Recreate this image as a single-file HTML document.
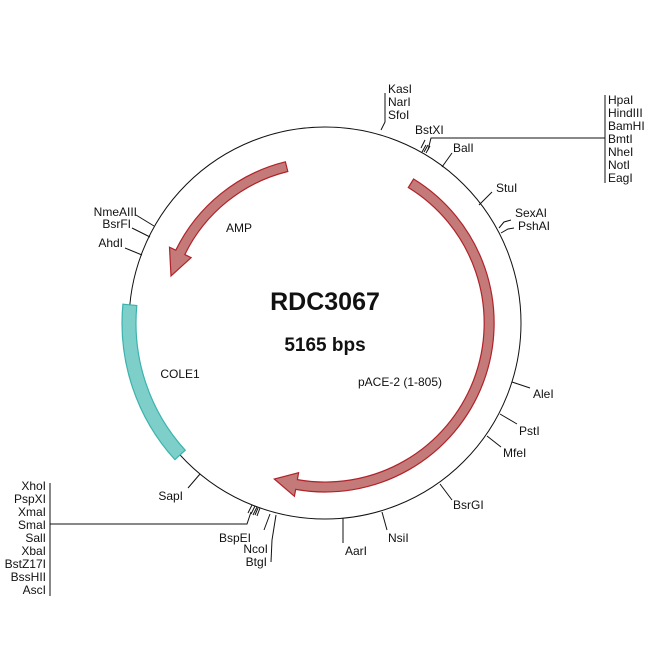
<!DOCTYPE html>
<html><head><style>
html,body{margin:0;padding:0;background:#fff;}
svg{display:block;font-family:"Liberation Sans",Arial,sans-serif;}
text{font-size:12px;fill:#111;}
</style></head><body>
<svg width="650" height="650" viewBox="0 0 650 650">
<circle cx="325" cy="323" r="196" fill="none" stroke="#111" stroke-width="1"/>
<path d="M122.9,304.2 A203,203 0 0 0 174.9,459.6 L185.2,450.2 A189,189 0 0 1 136.8,305.5 Z" fill="#7ecfca" stroke="#3bb3ad" stroke-width="1.2"/>
<path d="M413.6,179.0 A169,169 0 0 1 295.7,489.4 L294.4,496.3 L274.3,479.0 L298.6,472.7 L297.4,479.6 A159,159 0 0 0 408.3,187.5 Z" fill="#c47a78" stroke="#b0232a" stroke-width="1.2"/>
<path d="M285.4,161.8 A166,166 0 0 0 175.8,250.2 L169.5,247.2 L171.0,275.9 L191.1,257.7 L184.8,254.6 A156,156 0 0 1 287.8,171.5 Z" fill="#c47a78" stroke="#b0232a" stroke-width="1.2"/>

<text x="325" y="310" text-anchor="middle" style="font-size:25px;font-weight:bold">RDC3067</text>
<text x="325" y="351" text-anchor="middle" style="font-size:19px;font-weight:bold">5165 bps</text>
<text x="239" y="232" text-anchor="middle">AMP</text>
<text x="180" y="378" text-anchor="middle">COLE1</text>
<text x="400" y="386" text-anchor="middle">pACE-2 (1-805)</text>

<g stroke="#111" stroke-width="1" fill="none">
<polyline points="381,130 385,122 385,93"/>
<polyline points="421,148 425,140"/>
<line x1="422" y1="152" x2="426" y2="145"/><line x1="424" y1="152" x2="428" y2="145"/><line x1="426" y1="153" x2="430" y2="146"/>
<polyline points="428,150 431,138 605,138"/>
<line x1="605" y1="95" x2="605" y2="183"/>
<line x1="442" y1="167" x2="452" y2="153"/>
<line x1="479" y1="205" x2="492" y2="192"/>
<polyline points="499,228 504,222 511,220"/>
<polyline points="501,233 508,229 514,228"/>
<line x1="512" y1="382" x2="530" y2="388"/>
<line x1="500" y1="414" x2="517" y2="424"/>
<line x1="487" y1="436" x2="501" y2="447"/>
<line x1="440" y1="484" x2="452" y2="500"/>
<line x1="382" y1="512" x2="387" y2="530"/>
<line x1="343" y1="518" x2="343" y2="543"/>
<line x1="270" y1="514" x2="264" y2="530"/>
<polyline points="276,515 272,540 271,562"/>
<line x1="200" y1="474" x2="188" y2="488"/>
<line x1="50" y1="483" x2="50" y2="596"/>
<polyline points="50,524 247,524 251,512"/>
<line x1="248" y1="513" x2="252" y2="505"/><line x1="251" y1="514" x2="255" y2="506"/><line x1="253" y1="515" x2="257" y2="507"/><line x1="255" y1="515" x2="258" y2="508"/><line x1="257" y1="516" x2="260" y2="508"/>
<polyline points="154,226 136,215"/>
<polyline points="150,237 132,228"/>
<polyline points="142,255 125,248"/>
</g>

<text x="388" y="93">KasI</text>
<text x="388" y="106">NarI</text>
<text x="388" y="119">SfoI</text>
<text x="415" y="134">BstXI</text>
<text x="453" y="152">BalI</text>
<text x="496" y="192">StuI</text>
<text x="515" y="217">SexAI</text>
<text x="518" y="230">PshAI</text>
<text x="608" y="104">HpaI</text>
<text x="608" y="117">HindIII</text>
<text x="608" y="130">BamHI</text>
<text x="608" y="143">BmtI</text>
<text x="608" y="156">NheI</text>
<text x="608" y="169">NotI</text>
<text x="608" y="182">EagI</text>
<text x="533" y="398">AleI</text>
<text x="519" y="435">PstI</text>
<text x="503" y="457">MfeI</text>
<text x="453" y="509">BsrGI</text>
<text x="388" y="542">NsiI</text>
<text x="345" y="555">AarI</text>
<text x="251" y="542" text-anchor="end">BspEI</text>
<text x="268" y="553" text-anchor="end">NcoI</text>
<text x="267" y="566" text-anchor="end">BtgI</text>
<text x="183" y="500" text-anchor="end">SapI</text>
<g text-anchor="end">
<text x="46" y="490">XhoI</text>
<text x="46" y="503">PspXI</text>
<text x="46" y="516">XmaI</text>
<text x="46" y="529">SmaI</text>
<text x="46" y="542">SalI</text>
<text x="46" y="555">XbaI</text>
<text x="46" y="568">BstZ17I</text>
<text x="46" y="581">BssHII</text>
<text x="46" y="594">AscI</text>
<text x="137" y="216">NmeAIII</text>
<text x="131" y="228">BsrFI</text>
<text x="123" y="247">AhdI</text>
</g>
</svg>
</body></html>
